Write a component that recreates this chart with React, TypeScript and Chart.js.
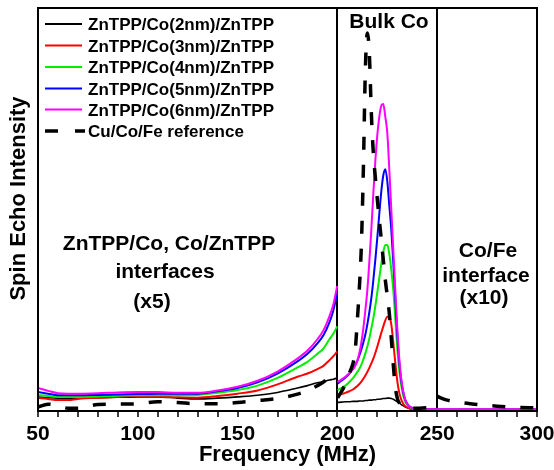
import React, { useEffect, useRef } from 'react';
import { Chart, registerables } from 'chart.js';

Chart.register(...registerables);

// Frequency grid (MHz). null entries mark the breaks between the differently scaled regions.
const FREQ = [
  50, 55, 60, 65, 70, 80, 90, 100, 110, 120, 130, 140, 150, 160, 170, 180, 185, 190, 193, 196, 198, 199.9,
  200,
  200.1, 202, 204, 206, 208,
  209, 210, 211, 212, 213, 214, 215, 216, 217, 218, 219, 220, 221, 222, 223, 224, 225, 226, 227, 228,
  229, 230, 231, 232, 233, 234, 235, 236,
  238, 240, 245, 249.9,
  250,
  250.1, 255, 260, 265, 270, 280, 290, 300,
];

const CO_2NM = [
  3.5, 3.3, 3.2, 3.2, 3.2, 3.3, 3.4, 3.5, 3.5, 3.2, 3.0, 3.2, 3.5, 3.9, 4.6, 5.7, 6.3, 7.0, 7.3, 7.7, 7.9, 8.2,
  null,
  2.1, 2.2, 2.3, 2.3, 2.4,
  2.4, 2.4, 2.5, 2.5, 2.5, 2.6, 2.6, 2.7, 2.7, 2.8, 2.8, 2.9, 2.9, 3.0, 3.1, 3.1, 3.2, 3.2, 3.1, 2.9,
  2.6, 2.3, 2.0, 1.6, 1.3, 1.0, 0.8, 0.6,
  0.5, 0.4, 0.35, 0.3,
  0.3,
  0.3, 0.3, 0.3, 0.3, 0.3, 0.3, 0.3, 0.3,
];

const CO_3NM = [
  3.2, 3.0, 2.7, 2.7, 3.0, 3.3, 3.5, 3.7, 3.6, 3.4, 3.3, 3.7, 4.3, 5.1, 6.6, 8.5, 9.3, 10.4, 11.2, 12.6, 13.6, 14.8,
  null,
  4.0, 4.2, 4.5, 4.9, 5.4,
  5.8, 6.2, 6.7, 7.3, 8.0, 8.8, 9.7, 10.7, 11.8, 13.0, 14.4, 16.0, 17.7, 19.4, 21.0, 22.5, 23.4, 23.4, 21.5, 17.0,
  12.0, 7.5, 4.5, 2.8, 1.8, 1.2, 0.9, 0.7,
  0.5, 0.5, 0.4, 0.4,
  0.35,
  0.3, 0.3, 0.3, 0.3, 0.3, 0.3, 0.3, 0.3,
];

const CO_4NM = [
  4.0, 3.7, 3.5, 3.5, 3.5, 3.6, 3.8, 3.9, 3.9, 3.9, 4.0, 4.5, 5.2, 6.3, 8.2, 10.8, 12.2, 14.2, 15.5, 17.8, 19.2, 21.0,
  null,
  5.2, 5.7, 6.3, 7.2, 8.3,
  9.0, 9.7, 10.5, 11.5, 12.8, 14.3, 16.0, 18.0, 20.5, 23.0, 26.0, 29.5, 33.0, 36.5, 39.5, 41.2, 41.2, 39.0, 35.0, 30.0,
  23.0, 15.5, 10.0, 6.3, 3.8, 2.3, 1.5, 1.0,
  0.6, 0.5, 0.4, 0.4,
  0.35,
  0.3, 0.3, 0.3, 0.3, 0.3, 0.3, 0.3, 0.3,
];

const CO_5NM = [
  4.7, 4.3, 3.9, 3.9, 3.9, 4.0, 4.1, 4.2, 4.3, 4.3, 4.3, 4.9, 5.7, 7.1, 9.3, 12.3, 14.2, 16.8, 18.8, 22.0, 25.0, 29.3,
  null,
  6.8, 7.5, 8.3, 9.3, 10.6,
  11.5, 12.5, 13.8, 15.3, 17.0, 19.0, 21.5, 24.5, 28.0, 32.5, 37.5, 43.0, 49.0, 54.5, 58.5, 60.0, 57.0, 51.0, 45.0, 37.0,
  28.0, 19.0, 12.0, 7.5, 4.6, 2.8, 1.8, 1.2,
  0.7, 0.5, 0.4, 0.4,
  0.35,
  0.35, 0.35, 0.35, 0.35, 0.35, 0.35, 0.35, 0.35,
];

const CO_6NM = [
  5.7, 5.0, 4.4, 4.3, 4.3, 4.4, 4.6, 4.7, 4.7, 4.5, 4.5, 5.1, 6.0, 7.5, 9.8, 13.0, 15.0, 17.8, 20.0, 23.5, 26.5, 31.0,
  null,
  7.2, 7.8, 8.5, 9.4, 10.5,
  11.3, 12.5, 14.4, 17.0, 20.5, 25.0, 30.0, 37.0, 45.0, 54.0, 62.0, 68.5, 73.0, 75.8, 76.2, 73.0, 69.0, 60.0, 50.0, 40.0,
  30.0, 20.5, 13.0, 8.0, 4.8, 2.8, 1.8, 1.2,
  0.7, 0.5, 0.45, 0.45,
  0.45,
  0.45, 0.45, 0.45, 0.45, 0.45, 0.45, 0.45, 0.45,
];

const REFERENCE = [
  1.0, 1.7, 1.3, 0.7, 0.7, 1.6, 1.7, 1.8, 2.3, 2.1, 1.8, 1.8, 2.1, 2.6, 3.1, 4.2, 5.0, 6.3, 7.2, 8.3, 8.8, 8.5,
  null,
  3.3, 4.8, 6.7, 9.4, 12.2,
  15.5, 22.6, 30.5, 41.0, 59.8, 84.6, 93.8, 88.8, 74.0, 64.0, 58.0, 52.5, 47.4, 42.5, 37.5, 32.5, 28.5, 24.3, 18.0, 11.5,
  6.0, 3.2, 2.0, 1.5, 1.2, 1.0, 0.9, 0.8,
  0.7, 0.7, 0.8, 0.8,
  null,
  3.6, 2.7, 2.2, 1.9, 1.6, 1.2, 0.9, 0.8,
];

const SERIES_LABELS = [
  'ZnTPP/Co(2nm)/ZnTPP',
  'ZnTPP/Co(3nm)/ZnTPP',
  'ZnTPP/Co(4nm)/ZnTPP',
  'ZnTPP/Co(5nm)/ZnTPP',
  'ZnTPP/Co(6nm)/ZnTPP',
  'Cu/Co/Fe reference',
];
const SERIES_VALUES = [CO_2NM, CO_3NM, CO_4NM, CO_5NM, CO_6NM, REFERENCE];
const SERIES_COLORS = ['#000000', '#ff0000', '#00ee00', '#0000ff', '#ff00ff', '#000000'];

const MAJOR_TICKS = [50, 100, 150, 200, 250, 300];
const REGION_BOUNDS = [200, 250];

const X_TITLE = 'Frequency (MHz)';
const Y_TITLE = 'Spin Echo Intensity';
const BULK_TEXT = ['Bulk Co'];
const INTERFACE_TEXT = ['ZnTPP/Co, Co/ZnTPP', 'interfaces', '(x5)'];
const COFE_TEXT = ['Co/Fe', 'interface', '(x10)'];

const FONT = '"Liberation Sans", Arial, Helvetica, sans-serif';

const decorPlugin = {
  id: 'decor',
  afterDraw(chart: any) {
    const { ctx, chartArea: a } = chart;
    ctx.save();
    // frame
    ctx.strokeStyle = '#000';
    ctx.lineWidth = 2;
    ctx.strokeRect(a.left, a.top, a.right - a.left, a.bottom - a.top);

    ctx.fillStyle = '#000';
    // y title
    ctx.save();
    ctx.font = `bold 22px ${FONT}`;
    ctx.translate(19, 198.5);
    ctx.rotate(-Math.PI / 2);
    ctx.textAlign = 'center';
    ctx.textBaseline = 'middle';
    ctx.fillText(Y_TITLE, 0, 0);
    ctx.restore();

    // region annotations
    ctx.font = `bold 21px ${FONT}`;
    ctx.textAlign = 'center';
    ctx.textBaseline = 'alphabetic';
    ctx.fillText(BULK_TEXT[0], 389, 28);
    const ixs = [169, 165, 152];
    const iys = [250, 278, 308];
    INTERFACE_TEXT.forEach((t, i) => ctx.fillText(t, ixs[i], iys[i]));
    const cxs = [488, 486, 484];
    const cys = [257, 282, 304];
    COFE_TEXT.forEach((t, i) => ctx.fillText(t, cxs[i], cys[i]));

    // legend
    ctx.font = `bold 17px ${FONT}`;
    ctx.textAlign = 'left';
    const rows = [24, 45.5, 67, 88.5, 109.5, 131];
    chart.data.datasets.forEach((ds: any, i: number) => {
      const y = rows[i];
      ctx.save();
      ctx.strokeStyle = ds.borderColor;
      const dashed = ds.borderDash && ds.borderDash.length;
      ctx.lineWidth = dashed ? 3.5 : 2;
      ctx.setLineDash(dashed ? [13, 17] : []);
      ctx.beginPath();
      ctx.moveTo(45, y);
      ctx.lineTo(dashed ? 85 : 82, y);
      ctx.stroke();
      ctx.restore();
      ctx.fillText(ds.label, 88, y + 6);
    });
    ctx.restore();
  },
};

export default function App() {
  const ref = useRef<HTMLCanvasElement | null>(null);

  useEffect(() => {
    if (!ref.current) return;
    const orders = [5, 4, 3, 2, 1, 0];
    const datasets = SERIES_LABELS.map((label, si) => ({
      label,
      data: FREQ.map((f, i) => ({ x: f, y: SERIES_VALUES[si][i] })),
      borderColor: SERIES_COLORS[si],
      backgroundColor: SERIES_COLORS[si],
      borderWidth: si === 5 ? 3.5 : si === 0 ? 1.6 : 2,
      borderDash: si === 5 ? [13, 15] : [],
      pointRadius: 0,
      cubicInterpolationMode: 'monotone' as const,
      spanGaps: false,
      order: orders[si],
    }));

    const chart = new Chart(ref.current, {
      type: 'line',
      data: { datasets },
      plugins: [decorPlugin],
      options: {
        responsive: false,
        animation: false,
        layout: { padding: { top: 8, right: 17, left: 0, bottom: 0 } },
        plugins: { legend: { display: false }, tooltip: { enabled: false }, title: { display: false } },
        scales: {
          x: {
            type: 'linear',
            min: 50,
            max: 300,
            afterFit: (s: any) => { s.height = 59; s.paddingLeft = 0; s.paddingRight = 0; },
            ticks: {
              stepSize: 10,
              autoSkip: false,
              maxRotation: 0,
              padding: 5,
              color: '#000',
              font: { family: FONT, size: 21, weight: 'bold' },
              callback: (v: any) => (MAJOR_TICKS.includes(Number(v)) ? String(v) : ''),
            },
            grid: {
              color: (c: any) => (c.tick && REGION_BOUNDS.includes(c.tick.value) ? '#000' : 'rgba(0,0,0,0)'),
              lineWidth: 2,
              tickColor: '#000',
              tickLength: 6,
              tickWidth: 1.5,
            },
            border: { display: true, color: '#000', width: 2 },
            title: {
              display: true,
              text: X_TITLE,
              color: '#000',
              font: { family: FONT, size: 22, weight: 'bold' },
              padding: { top: 0, bottom: 2 },
            },
          },
          y: {
            type: 'linear',
            min: 0,
            max: 100,
            afterFit: (s: any) => { s.width = 38; s.paddingTop = 0; s.paddingBottom = 0; },
            ticks: { display: false },
            grid: { display: false },
            border: { display: true, color: '#000', width: 2 },
          },
        },
      },
    });
    return () => chart.destroy();
  }, []);

  return (
    <div style={{ position: 'fixed', left: 0, top: 0, width: 554, height: 470, background: '#fff' }}>
      <canvas ref={ref} width={554} height={470} style={{ width: 554, height: 470 }} />
    </div>
  );
}
